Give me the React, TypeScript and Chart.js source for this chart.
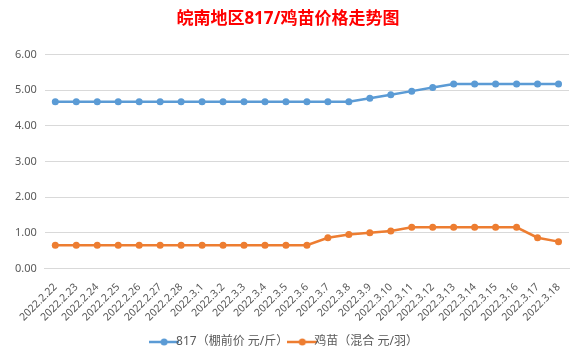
import React, { useEffect, useRef } from "react";
import { Chart, registerables } from "chart.js";

Chart.register(...registerables);

const categories = [
  "2022.2.22", "2022.2.23", "2022.2.24", "2022.2.25", "2022.2.26", "2022.2.27", "2022.2.28",
  "2022.3.1", "2022.3.2", "2022.3.3", "2022.3.4", "2022.3.5", "2022.3.6", "2022.3.7", "2022.3.8",
  "2022.3.9", "2022.3.10", "2022.3.11", "2022.3.12", "2022.3.13", "2022.3.14", "2022.3.15",
  "2022.3.16", "2022.3.17", "2022.3.18",
];
const price817 = [
  4.67, 4.67, 4.67, 4.67, 4.67, 4.67, 4.67, 4.67, 4.67, 4.67, 4.67, 4.67, 4.67, 4.67, 4.67,
  4.77, 4.87, 4.97, 5.07, 5.17, 5.17, 5.17, 5.17, 5.17, 5.17,
];
const chickPrice = [
  0.65, 0.65, 0.65, 0.65, 0.65, 0.65, 0.65, 0.65, 0.65, 0.65, 0.65, 0.65, 0.65, 0.86, 0.95,
  1.0, 1.05, 1.15, 1.15, 1.15, 1.15, 1.15, 1.15, 0.86, 0.75,
];
const seriesNames = ["817（棚前价 元/斤）", "鸡苗（混合 元/羽）"];
const titleText = "皖南地区817/鸡苗价格走势图";

const BLUE = "#5b9bd5";
const ORANGE = "#ed7d31";
const FONT = '"Noto Sans", "Noto Sans CJK SC", sans-serif';

function legendIcon(color: string): HTMLCanvasElement {
  const c = document.createElement("canvas");
  c.width = 30;
  c.height = 10;
  const ctx = c.getContext("2d")!;
  ctx.strokeStyle = color;
  ctx.lineWidth = 2.5;
  ctx.beginPath();
  ctx.moveTo(0, 5);
  ctx.lineTo(30, 5);
  ctx.stroke();
  ctx.fillStyle = color;
  ctx.beginPath();
  ctx.arc(15, 5, 3.5, 0, Math.PI * 2);
  ctx.fill();
  return c;
}

export default function App() {
  const ref = useRef<HTMLCanvasElement>(null);
  useEffect(() => {
    document.body.style.margin = "0";
    const icons = [legendIcon(BLUE), legendIcon(ORANGE)];
    const chart = new Chart(ref.current!, {
      type: "line",
      data: {
        labels: categories,
        datasets: [
          {
            label: seriesNames[0],
            data: price817,
            borderColor: BLUE,
            backgroundColor: BLUE,
            borderWidth: 2.5,
            pointRadius: 3.5,
            pointBackgroundColor: BLUE,
            pointBorderWidth: 0,
            tension: 0,
          },
          {
            label: seriesNames[1],
            data: chickPrice,
            borderColor: ORANGE,
            backgroundColor: ORANGE,
            borderWidth: 2.5,
            pointRadius: 3.5,
            pointBackgroundColor: ORANGE,
            pointBorderWidth: 0,
            tension: 0,
          },
        ],
      },
      options: {
        animation: false,
        responsive: false,
        layout: { padding: { left: 7, right: 18, top: 5, bottom: 6 } },
        plugins: {
          title: {
            display: true,
            text: titleText,
            color: "#ff0000",
            font: { family: FONT, size: 17, weight: "bold" },
            padding: { top: 4, bottom: 25 },
          },
          legend: {
            position: "bottom",
            labels: {
              color: "#595959",
              font: { family: FONT, size: 12 },
              usePointStyle: true,
              boxWidth: 30,
              boxHeight: 10,
              padding: 8,
              generateLabels: (ch: any) =>
                ch.data.datasets.map((ds: any, i: number) => ({
                  text: ds.label,
                  fillStyle: ds.borderColor,
                  strokeStyle: ds.borderColor,
                  lineWidth: 0,
                  pointStyle: icons[i],
                  datasetIndex: i,
                  hidden: false,
                  fontColor: "#595959",
                })),
            },
          },
          tooltip: { enabled: false },
        },
        scales: {
          x: {
            offset: true,
            grid: { display: false },
            border: { display: true, color: "#d9d9d9" },
            ticks: {
              color: "#595959",
              font: { family: FONT, size: 10.5 },
              minRotation: 45,
              maxRotation: 45,
              autoSkip: false,
              padding: 4.5,
            },
          },
          y: {
            min: 0,
            max: 6,
            grid: { color: "#d9d9d9", drawTicks: false },
            border: { display: false },
            ticks: {
              stepSize: 1,
              color: "#595959",
              font: { family: FONT, size: 11 },
              padding: 8,
              callback: (v: any) => Number(v).toFixed(2),
            },
          },
        },
      },
    });
    return () => chart.destroy();
  }, []);
  return (
    <div style={{ width: 587, height: 364, background: "#fff" }}>
      <canvas ref={ref} width={587} height={364} />
    </div>
  );
}
